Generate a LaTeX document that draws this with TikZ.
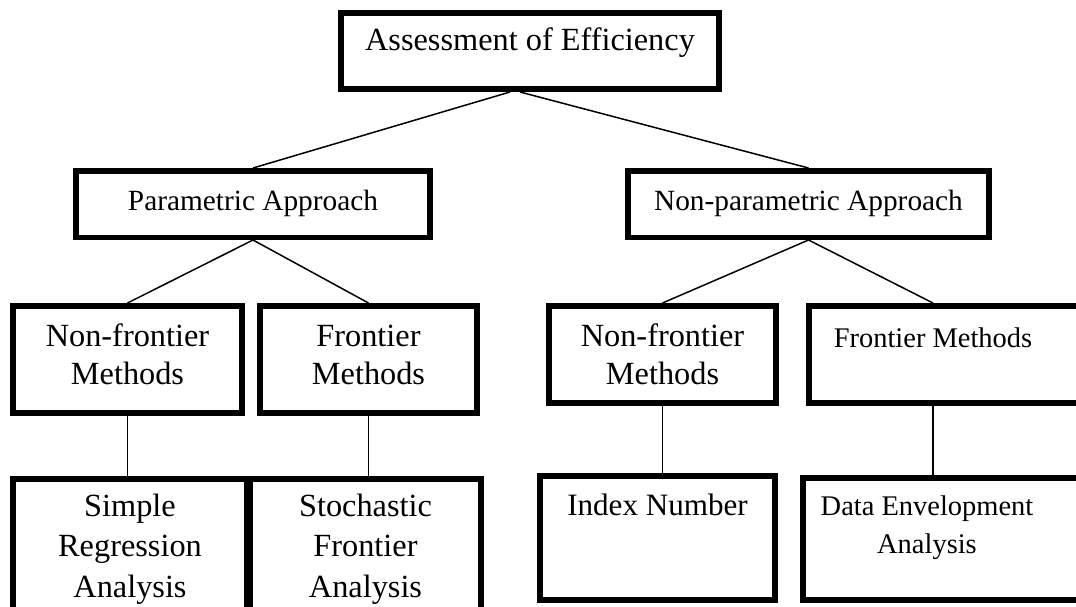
\documentclass[tikz,border=0pt]{standalone}
\usepackage{fontspec}
\setmainfont{Liberation Serif}
\usetikzlibrary{positioning,calc}

\begin{document}
\begin{tikzpicture}[x=0.02cm,y=-0.02cm,
  box/.style={draw,line width=0.11cm,inner sep=0pt,align=center,font=\fontsize{18.4}{21.6}\selectfont},
  lbl/.style={inner sep=0pt,align=center,font=\fontsize{16.2}{21.6}\selectfont},
  link/.style={line width=0.03cm}]
\useasboundingbox (0,0) rectangle (1076,606);
\clip (0,0) rectangle (1076,606);
% top
\node[box,minimum width=7.57cm,text height=0.745cm,text depth=0.785cm] (eff) at (530,51) {Assessment of Efficiency};
% approaches
\node[box,font=\fontsize{16.7}{21.6}\selectfont,minimum width=7.09cm,text height=0.785cm,text depth=0.545cm] (para) at (253,204) {Parametric Approach};
\node[box,font=\fontsize{16.7}{21.6}\selectfont,minimum width=7.23cm,text height=0.785cm,text depth=0.545cm] (npara) at (808.5,204) {Non-parametric Approach};
% methods
\node[box,minimum width=4.59cm,text height=1.565cm,text depth=0.585cm] (nfL) at (127.5,359.5) {Non-frontier\\Methods};
\node[box,minimum width=4.35cm,text height=1.565cm,text depth=0.585cm] (frL) at (368.5,359.5) {Frontier\\Methods};
\node[box,minimum width=4.55cm,text height=1.565cm,text depth=0.385cm] (nfR) at (662.5,354.5) {Non-frontier\\Methods};
\node[box,minimum width=5.725cm,minimum height=1.95cm] (frR) at (951.9,354.5) {};
\node[lbl,anchor=base] (frRtxt) at (933,347) {Frontier Methods};
% techniques
\node[box,minimum width=4.69cm,text height=2.365cm,text depth=0.86cm] (sra) at (130,559.4) {Simple\\[1.2pt]Regression\\[1.2pt]Analysis};
\node[box,minimum width=4.63cm,text height=2.365cm,text depth=0.86cm] (sfa) at (365.5,559.4) {Stochastic\\[1.2pt]Frontier\\[1.2pt]Analysis};
\node[box,font=\fontsize{17.7}{21.6}\selectfont,minimum width=4.71cm,text height=0.785cm,text depth=1.705cm] (idx) at (657.5,538) {Index Number};
\node[box,minimum width=5.845cm,minimum height=2.45cm] (dea) at (948.9,539) {};
\node[lbl,anchor=base] (deatxt) at (927,553) {Data Envelopment\\Analysis};
% links
\draw[link] ([xshift=-0.4cm]eff.south) -- (para.north);
\draw[link] ([xshift=-0.2cm]eff.south) -- (npara.north);
\draw[link] (para.south) -- (nfL.north);
\draw[link] (para.south) -- (frL.north);
\draw[link] (npara.south) -- (nfR.north);
\draw[link] (npara.south) -- (frR.north -| frRtxt);
\draw[link] (nfL.south) -- (nfL.south |- sra.north);
\draw[link] (frL.south) -- (frL.south |- sfa.north);
\draw[link] (nfR.south) -- (nfR.south |- idx.north);
\draw[link] (frR.south -| frRtxt) -- (dea.north -| frRtxt);
\end{tikzpicture}
\end{document}
